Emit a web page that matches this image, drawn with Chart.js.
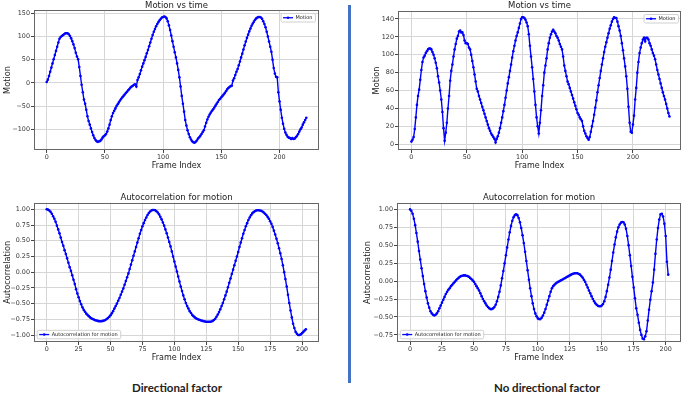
<!DOCTYPE html>
<html>
<head>
<meta charset="utf-8">
<script src="https://cdn.jsdelivr.net/npm/chart.js@4.4.0/dist/chart.umd.min.js"></script>
<style>
  html, body { margin: 0; padding: 0; background: #fff; }
  #page { position: relative; width: 685px; height: 394px; overflow: hidden; background: #fff; }
  canvas { position: absolute; }
  .divider { position: absolute; left: 348px; top: 5px; width: 3px; height: 378px; background: #4472c4; }
  .caption { position: absolute; top: 380px; width: 240px; text-align: center; font-family: Lato, "Open Sans", sans-serif; font-weight: 700; font-size: 11.5px; line-height: 16px; color: #222; }
</style>
</head>
<body>
<div id="page">
  <canvas id="motionDir" width="325" height="172" style="left:0px;top:0px"></canvas>
  <canvas id="motionNoDir" width="325" height="172" style="left:360px;top:0px"></canvas>
  <canvas id="autoDir" width="325" height="180" style="left:0px;top:186px"></canvas>
  <canvas id="autoNoDir" width="325" height="180" style="left:360px;top:186px"></canvas>
  <div class="divider"></div>
  <div class="caption" style="left:57px">Directional factor</div>
  <div class="caption" style="left:427px">No directional factor</div>
</div>
<script>
// Motion per frame, directional factor (frames 0..223)
const motionDirectional = [
  2, 7, 15, 24, 33, 42, 51, 60, 69, 78,
  87, 95, 99, 101, 103, 105, 107, 107, 107, 105,
  101, 96, 90, 83, 75, 65, 57, 51, 34, 15,
  -4, -20, -36, -45, -58, -72, -82, -90, -98, -106,
  -113, -119, -123, -126, -127, -126, -125, -122, -118, -115,
  -113, -110, -105, -98, -90, -80, -72, -65, -60, -55,
  -50, -46, -42, -38, -34, -31, -28, -25, -22, -19,
  -16, -13, -10, -8, -6, -4, -3, -8, 6, 12,
  19, 27, 35, 42, 49, 56, 64, 71, 79, 87,
  95, 103, 110, 116, 122, 127, 131, 135, 138, 141,
  142, 143, 142, 139, 133, 124, 114, 102, 90, 78,
  66, 55, 42, 28, 12, -8, -28, -45, -62, -80,
  -92, -102, -110, -117, -122, -126, -128, -129, -127, -124,
  -120, -117, -114, -110, -106, -102, -94, -86, -79, -73,
  -68, -64, -60, -57, -53, -49, -45, -41, -37, -34,
  -31, -28, -25, -22, -18, -14, -11, -9, -7, -6,
  5, 10, 17, 24, 30, 38, 46, 55, 63, 72,
  81, 89, 97, 104, 111, 117, 123, 128, 132, 136,
  139, 141, 142, 142, 141, 138, 133, 127, 120, 110,
  100, 89, 78, 67, 50, 32, 20, 13, 12, -20,
  -40, -58, -75, -88, -99, -107, -112, -116, -118, -119,
  -121, -119, -121, -120, -117, -114, -110, -105, -100, -96,
  -90, -85, -80, -75
];

// Motion per frame, no directional factor (frames 0..233)
const motionNoDirectional = [
  3, 5, 8, 17, 30, 44, 54, 61, 72, 83,
  92, 97, 99, 102, 104, 106, 107, 107, 106, 103,
  100, 96, 91, 85, 76, 69, 60, 50, 36, 18,
  4, 13, 24, 40, 54, 71, 82, 89, 98, 106,
  112, 118, 121, 126, 127, 125, 125, 122, 116, 113,
  113, 112, 108, 106, 100, 93, 86, 78, 70, 62,
  59, 54, 50, 46, 42, 38, 34, 30, 26, 22,
  18, 15, 12, 10, 8, 6, 2, 6, 9, 13,
  18, 24, 30, 37, 44, 52, 60, 68, 75, 82,
  89, 97, 104, 110, 116, 121, 125, 130, 135, 140,
  142, 142, 141, 139, 136, 132, 123, 110, 98, 86,
  73, 59, 44, 30, 20, 12, 24, 38, 54, 66,
  80, 88, 96, 106, 113, 119, 123, 126, 128, 126,
  124, 121, 119, 116, 112, 109, 106, 98, 88, 82,
  76, 70, 67, 63, 59, 55, 51, 47, 43, 39,
  35, 33, 30, 28, 26, 20, 15, 12, 9, 7,
  5, 8, 14, 20, 26, 33, 41, 49, 58, 66,
  74, 82, 89, 96, 103, 109, 114, 119, 124, 129,
  133, 137, 140, 142, 141, 141, 137, 132, 127, 121,
  113, 105, 96, 87, 76, 62, 42, 24, 14, 13,
  22, 32, 50, 63, 80, 92, 102, 108, 113, 117,
  119, 115, 119, 119, 117, 113, 110, 106, 102, 99,
  95, 89, 83, 78, 73, 68, 63, 58, 54, 50,
  45, 40, 35, 31
];

// Autocorrelation, directional factor (lags 0..203)
const autocorrDirectional = [
  1.00, 0.995, 0.98, 0.96, 0.93, 0.89, 0.85, 0.80, 0.74, 0.68,
  0.62, 0.55, 0.48, 0.42, 0.35, 0.29, 0.22, 0.15, 0.08, 0.02,
  -0.05, -0.12, -0.19, -0.27, -0.34, -0.40, -0.46, -0.51, -0.56, -0.60,
  -0.63, -0.66, -0.68, -0.70, -0.72, -0.735, -0.745, -0.755, -0.765, -0.77,
  -0.775, -0.78, -0.78, -0.78, -0.775, -0.77, -0.76, -0.745, -0.73, -0.71,
  -0.685, -0.655, -0.62, -0.58, -0.54, -0.50, -0.455, -0.41, -0.36, -0.31,
  -0.26, -0.20, -0.14, -0.08, -0.02, 0.05, 0.12, 0.19, 0.26, 0.33,
  0.40, 0.47, 0.54, 0.61, 0.67, 0.73, 0.78, 0.83, 0.87, 0.91,
  0.94, 0.965, 0.98, 0.99, 0.99, 0.985, 0.97, 0.95, 0.92, 0.88,
  0.84, 0.79, 0.74, 0.68, 0.62, 0.55, 0.48, 0.41, 0.33, 0.25,
  0.17, 0.09, 0.01, -0.07, -0.15, -0.23, -0.30, -0.37, -0.43, -0.49,
  -0.54, -0.58, -0.62, -0.65, -0.68, -0.70, -0.72, -0.735, -0.745, -0.755,
  -0.76, -0.77, -0.775, -0.78, -0.785, -0.79, -0.79, -0.79, -0.79, -0.785,
  -0.775, -0.76, -0.74, -0.71, -0.675, -0.635, -0.59, -0.54, -0.49, -0.43,
  -0.37, -0.31, -0.24, -0.17, -0.10, -0.03, 0.04, 0.11, 0.18, 0.25,
  0.32, 0.40, 0.47, 0.54, 0.61, 0.67, 0.73, 0.78, 0.83, 0.87,
  0.905, 0.935, 0.955, 0.97, 0.98, 0.985, 0.985, 0.98, 0.975, 0.965,
  0.95, 0.93, 0.91, 0.88, 0.85, 0.81, 0.77, 0.72, 0.66, 0.60,
  0.53, 0.46, 0.38, 0.30, 0.21, 0.11, 0.00, -0.11, -0.23, -0.36,
  -0.49, -0.61, -0.72, -0.82, -0.89, -0.95, -0.98, -1.00, -1.00, -0.99,
  -0.97, -0.95, -0.93, -0.91
];

// Autocorrelation, no directional factor (lags 0..202)
const autocorrNoDirectional = [
  1.00, 0.98, 0.94, 0.87, 0.78, 0.67, 0.55, 0.42, 0.30, 0.18,
  0.07, -0.04, -0.14, -0.23, -0.31, -0.37, -0.42, -0.45, -0.47, -0.48,
  -0.47, -0.45, -0.42, -0.38, -0.34, -0.30, -0.26, -0.22, -0.18, -0.15,
  -0.12, -0.10, -0.07, -0.05, -0.03, -0.01, 0.01, 0.03, 0.045, 0.06,
  0.07, 0.075, 0.08, 0.08, 0.075, 0.07, 0.06, 0.045, 0.03, 0.01,
  -0.01, -0.04, -0.07, -0.10, -0.13, -0.17, -0.21, -0.25, -0.28, -0.31,
  -0.34, -0.36, -0.38, -0.39, -0.39, -0.38, -0.36, -0.33, -0.28, -0.22,
  -0.15, -0.06, 0.04, 0.14, 0.25, 0.36, 0.47, 0.58, 0.68, 0.77,
  0.84, 0.89, 0.92, 0.93, 0.92, 0.88, 0.82, 0.74, 0.64, 0.53,
  0.41, 0.28, 0.15, 0.02, -0.10, -0.21, -0.31, -0.39, -0.45, -0.49,
  -0.52, -0.53, -0.53, -0.51, -0.48, -0.44, -0.39, -0.33, -0.27, -0.21,
  -0.15, -0.10, -0.07, -0.05, -0.035, -0.02, -0.01, 0.00, 0.01, 0.02,
  0.03, 0.04, 0.05, 0.06, 0.07, 0.08, 0.09, 0.10, 0.105, 0.11,
  0.11, 0.11, 0.10, 0.09, 0.07, 0.05, 0.02, -0.01, -0.05, -0.09,
  -0.13, -0.17, -0.21, -0.25, -0.28, -0.31, -0.33, -0.345, -0.35, -0.35,
  -0.34, -0.32, -0.28, -0.22, -0.14, -0.05, 0.05, 0.16, 0.28, 0.40,
  0.51, 0.61, 0.69, 0.75, 0.79, 0.815, 0.825, 0.82, 0.79, 0.73,
  0.63, 0.50, 0.36, 0.21, 0.06, -0.09, -0.24, -0.38, -0.47, -0.58,
  -0.68, -0.75, -0.80, -0.81, -0.77, -0.70, -0.55, -0.40, -0.26, -0.14,
  -0.02, 0.16, 0.38, 0.58, 0.74, 0.86, 0.93, 0.94, 0.90, 0.80,
  0.63, 0.27, 0.09
];

// Tick values
const motionTicksDir = [-100, -50, 0, 50, 100, 150];
const motionTicksNoDir = [0, 20, 40, 60, 80, 100, 120, 140];
const autocorrTicksDir = [-1, -0.75, -0.5, -0.25, 0, 0.25, 0.5, 0.75, 1];
const autocorrTicksNoDir = [-0.75, -0.5, -0.25, 0, 0.25, 0.5, 0.75, 1];
const frameTicksMotion = [0, 50, 100, 150, 200];
const frameTicksAutocorr = [0, 25, 50, 75, 100, 125, 150, 175, 200];

const FONT = 'DejaVu Sans';
const minus = s => s.replace('-', '\u2212');

// Draws the box around the plot and the small legend inside it
const frameAndKey = {
  id: 'frameAndKey',
  afterDraw(chart, args, opts) {
    const { ctx, chartArea: a } = chart;
    ctx.save();
    ctx.strokeStyle = '#666';
    ctx.lineWidth = 1;
    ctx.strokeRect(Math.round(a.left) + 0.5, Math.round(a.top) + 0.5,
      Math.round(a.width) - 1, Math.round(a.height) - 1);

    ctx.font = opts.fontSize + 'px "' + FONT + '"';
    const tw = ctx.measureText(opts.text).width;
    const w = 2.5 + 10 + 2.5 + tw + 2.5;
    const h = opts.boxHeight;
    const x = opts.corner === 'tr' ? a.right - opts.insetX - w : a.left + opts.insetX;
    const y = opts.corner === 'tr' ? a.top + opts.insetY : a.bottom - opts.insetY - h;
    ctx.fillStyle = 'rgba(255,255,255,0.85)';
    ctx.strokeStyle = '#d0d0d0';
    ctx.beginPath();
    ctx.roundRect(x + 0.5, y + 0.5, w, h, 1.5);
    ctx.fill();
    ctx.stroke();
    const cy = y + h / 2 + 0.5;
    ctx.strokeStyle = 'blue';
    ctx.lineWidth = 1.3;
    ctx.beginPath();
    ctx.moveTo(x + 2.5, cy);
    ctx.lineTo(x + 12.5, cy);
    ctx.stroke();
    ctx.fillStyle = 'blue';
    ctx.beginPath();
    ctx.arc(x + 7.5, cy, 1.3, 0, Math.PI * 2);
    ctx.fill();
    ctx.fillStyle = '#222';
    ctx.textBaseline = 'middle';
    ctx.fillText(opts.text, x + 15, cy);
    ctx.restore();
  }
};

function createSeriesChart(id, values, s) {
  const ctx = document.getElementById(id).getContext('2d');
  return new Chart(ctx, {
    type: 'line',
    data: {
      datasets: [{
        label: s.legend,
        data: values.map((v, i) => ({ x: i, y: v })),
        borderColor: 'blue',
        backgroundColor: 'blue',
        borderWidth: 1.4,
        pointRadius: 1.3,
        pointBorderWidth: 0,
        pointBackgroundColor: 'blue',
        tension: 0
      }]
    },
    options: {
      responsive: false,
      animation: false,
      devicePixelRatio: 1,
      layout: { padding: s.padding },
      plugins: {
        legend: { display: false },
        tooltip: { enabled: false },
        title: {
          display: true,
          text: s.title,
          fullSize: false,
          color: '#222',
          font: { family: FONT, size: 8.5, weight: 'normal', lineHeight: 0.8 },
          padding: s.titlePadding
        },
        frameAndKey: { text: s.legend, corner: s.corner, insetX: s.insetX, insetY: s.insetY, fontSize: 5, boxHeight: 8.5 }
      },
      scales: {
        x: {
          type: 'linear',
          min: s.xMin,
          max: s.xMax,
          afterBuildTicks: sc => { sc.ticks = s.xTicks.map(v => ({ value: v })); },
          afterFit: sc => { sc.height = s.xAxisHeight; },
          border: { display: false },
          grid: { color: '#d6d6d6', lineWidth: 1, tickLength: 3, tickColor: '#444' },
          ticks: { font: { family: FONT, size: 6.4 }, color: '#333', padding: 1, maxRotation: 0, autoSkip: false, callback: v => String(v) },
          title: { display: true, text: 'Frame Index', color: '#222', font: { family: FONT, size: 8 }, padding: { top: 0, bottom: s.xTitlePad } }
        },
        y: {
          min: s.yMin,
          max: s.yMax,
          afterBuildTicks: sc => { sc.ticks = s.yTicks.map(v => ({ value: v })); },
          afterFit: sc => { sc.width = s.yAxisWidth; },
          border: { display: false },
          grid: { color: '#d6d6d6', lineWidth: 1, tickLength: 3, tickColor: '#444' },
          ticks: { font: { family: FONT, size: 6.4 }, color: '#333', padding: 1, autoSkip: false, callback: v => minus(s.decimals ? v.toFixed(s.decimals) : String(v)) },
          title: { display: true, text: s.yTitle, color: '#222', font: { family: FONT, size: 8.2 }, padding: { top: s.yTitlePad, bottom: 0 } }
        }
      }
    },
    plugins: [frameAndKey]
  });
}

window.addEventListener('load', () => {
  createSeriesChart('motionDir', motionDirectional, {
    title: 'Motion vs time', yTitle: 'Motion', legend: 'Motion', corner: 'tr', insetX: 4, insetY: 3,
    xMin: -10.9, xMax: 233.9, yMin: -144.6, yMax: 157.1,
    xTicks: frameTicksMotion, yTicks: motionTicksDir, decimals: 0,
    padding: { top: 0, left: 0, right: 6, bottom: 0 }, titlePadding: { top: 2.6, bottom: 0.6 },
    yAxisWidth: 34, xAxisHeight: 22, xTitlePad: 1.5, yTitlePad: 3.4
  });
  createSeriesChart('motionNoDir', motionNoDirectional, {
    title: 'Motion vs time', yTitle: 'Motion', legend: 'Motion', corner: 'tr', insetX: 3, insetY: 3,
    xMin: -12.1, xMax: 243.4, yMin: -6.4, yMax: 148.9,
    xTicks: frameTicksMotion, yTicks: motionTicksNoDir, decimals: 0,
    padding: { top: 0, left: 0, right: 3, bottom: 0 }, titlePadding: { top: 2.6, bottom: 1.6 },
    yAxisWidth: 38, xAxisHeight: 22, xTitlePad: 1.5, yTitlePad: 11.8
  });
  createSeriesChart('autoDir', autocorrDirectional, {
    title: 'Autocorrelation for motion', yTitle: 'Autocorrelation', legend: 'Autocorrelation for motion', corner: 'bl', insetX: 2.7, insetY: 3.7,
    xMin: -9.95, xMax: 213.3, yMin: -1.111, yMax: 1.105,
    xTicks: frameTicksAutocorr, yTicks: autocorrTicksDir, decimals: 2,
    padding: { top: 0, left: 0, right: 6, bottom: 0 }, titlePadding: { top: 8.8, bottom: 1.1 },
    yAxisWidth: 34, xAxisHeight: 24, xTitlePad: 3.2, yTitlePad: 3.4
  });
  createSeriesChart('autoNoDir', autocorrNoDirectional, {
    title: 'Autocorrelation for motion', yTitle: 'Autocorrelation', legend: 'Autocorrelation for motion', corner: 'bl', insetX: 2.7, insetY: 3.7,
    xMin: -10.2, xMax: 212, yMin: -0.849, yMax: 1.085,
    xTicks: frameTicksAutocorr, yTicks: autocorrTicksNoDir, decimals: 2,
    padding: { top: 0, left: 0, right: 4, bottom: 0 }, titlePadding: { top: 8.8, bottom: 1.7 },
    yAxisWidth: 37, xAxisHeight: 24, xTitlePad: 3.2, yTitlePad: 2.8
  });
});
</script>
</body>
</html>
